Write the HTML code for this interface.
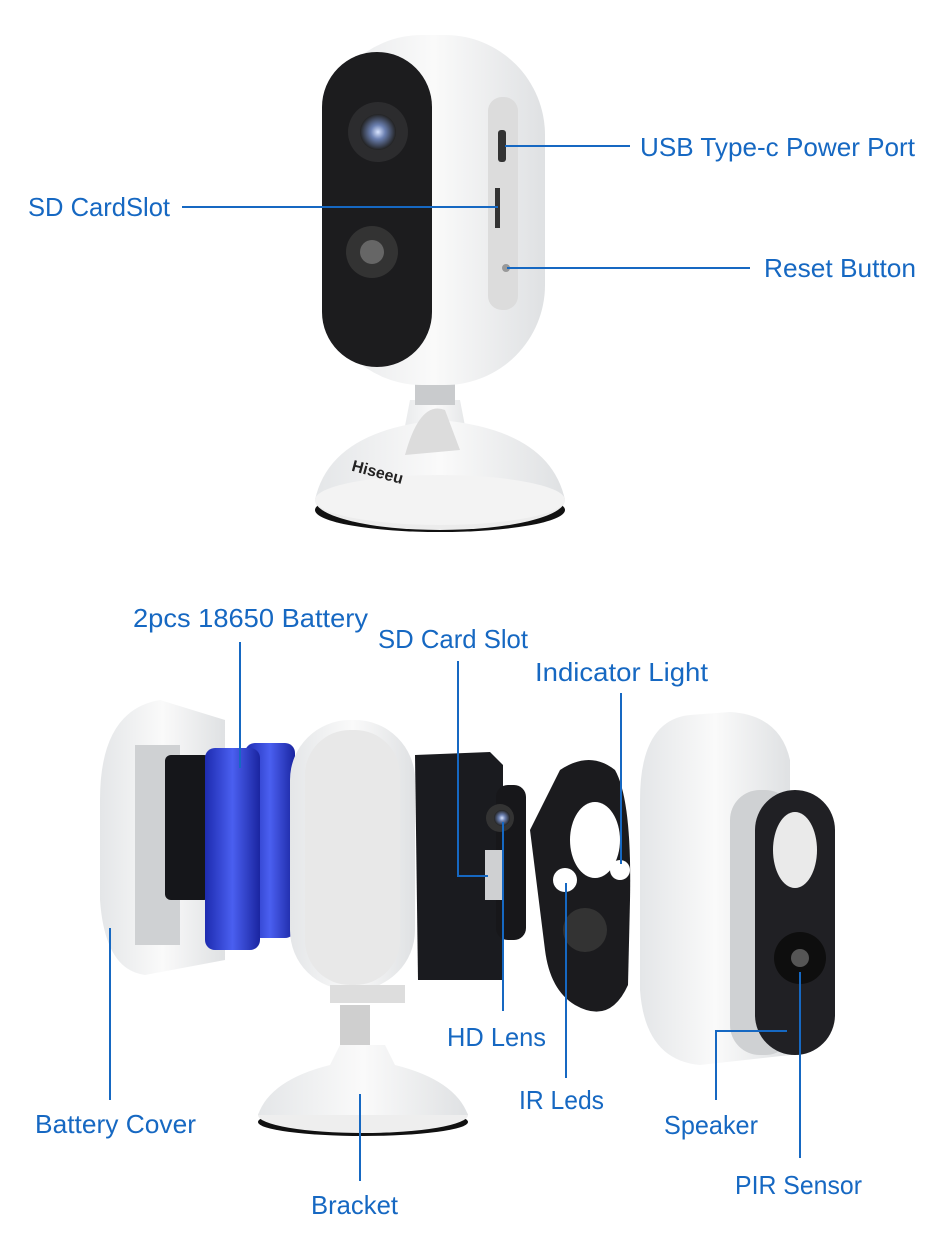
<!DOCTYPE html>
<html><head><meta charset="utf-8"><style>
html,body{margin:0;padding:0;background:#fff;}
svg{display:block}
text{font-family:"Liberation Sans",sans-serif;font-size:26px;fill:#1668c2;}
</style></head><body>
<svg width="950" height="1258" viewBox="0 0 950 1258" xmlns="http://www.w3.org/2000/svg">
<defs>
<linearGradient id="wh" x1="0" x2="1"><stop offset="0" stop-color="#e4e6e8"/><stop offset="0.5" stop-color="#fafafa"/><stop offset="1" stop-color="#dfe1e3"/></linearGradient>
<linearGradient id="bl" x1="0" x2="1"><stop offset="0" stop-color="#1d2bb0"/><stop offset="0.5" stop-color="#4a5ff0"/><stop offset="1" stop-color="#1a25a0"/></linearGradient>
<radialGradient id="lens"><stop offset="0" stop-color="#d8e4ff"/><stop offset="0.4" stop-color="#6a7fb0"/><stop offset="1" stop-color="#222"/></radialGradient>
</defs>

<!-- TOP CAMERA -->
<path d="M395 478 L410 400 L460 400 L475 478 Z" fill="url(#wh)"/>
<rect x="415" y="375" width="40" height="30" fill="#c9cbcd"/>
<ellipse cx="440" cy="510" rx="125" ry="22" fill="#111"/>
<ellipse cx="440" cy="500" rx="125" ry="30" fill="#ececec"/>
<path d="M315 500 Q330 430 440 420 Q550 430 565 500 Z" fill="url(#wh)"/>
<ellipse cx="440" cy="500" rx="125" ry="25" fill="#f3f3f3"/>
<path d="M405 455 Q420 400 445 410 L460 450 Z" fill="#dcdcdc"/>
<text x="352" y="478" style="font-size:16px;font-weight:bold;fill:#222" transform="rotate(15 380 470)">Hiseeu</text>
<rect x="322" y="35" width="223" height="350" rx="100" fill="url(#wh)"/>
<rect x="322" y="52" width="110" height="315" rx="55" fill="#1c1c1e"/>
<circle cx="378" cy="132" r="30" fill="#2c2c2e"/>
<circle cx="378" cy="132" r="18" fill="url(#lens)"/>
<circle cx="372" cy="252" r="26" fill="#333"/>
<circle cx="372" cy="252" r="12" fill="#666"/>
<rect x="488" y="97" width="30" height="213" rx="14" fill="#dcdcdc"/>
<rect x="498" y="130" width="8" height="32" rx="3" fill="#333"/>
<rect x="495" y="188" width="5" height="40" fill="#333"/>
<circle cx="506" cy="268" r="4" fill="#999"/>

<line x1="505" y1="146" x2="630" y2="146" stroke="#1668c2" stroke-width="2"/>
<line x1="182" y1="207" x2="498" y2="207" stroke="#1668c2" stroke-width="2"/>
<line x1="507" y1="268" x2="750" y2="268" stroke="#1668c2" stroke-width="2"/>
<text x="640" y="156" textLength="275" lengthAdjust="spacingAndGlyphs">USB Type-c Power Port</text>
<text x="28" y="216" textLength="142" lengthAdjust="spacingAndGlyphs">SD CardSlot</text>
<text x="764" y="277" textLength="152" lengthAdjust="spacingAndGlyphs">Reset Button</text>

<!-- BOTTOM -->
<path d="M160 700 Q100 710 100 800 L100 900 Q105 970 145 975 L225 960 L225 720 Z" fill="url(#wh)"/>
<rect x="135" y="745" width="45" height="200" fill="#cfd1d3"/>
<rect x="165" y="755" width="45" height="145" rx="6" fill="#15161a"/>
<rect x="245" y="743" width="50" height="195" rx="10" fill="url(#bl)"/>
<rect x="205" y="748" width="55" height="202" rx="10" fill="url(#bl)"/>
<rect x="290" y="720" width="125" height="270" rx="60" fill="url(#wh)"/>
<rect x="305" y="730" width="95" height="255" rx="45" fill="#e8e8e8"/>
<rect x="330" y="985" width="75" height="18" fill="#ddd"/>
<rect x="340" y="1005" width="30" height="45" fill="#cfcfcf"/>
<ellipse cx="363" cy="1122" rx="105" ry="14" fill="#111"/>
<ellipse cx="363" cy="1115" rx="105" ry="18" fill="#eee"/>
<path d="M258 1115 Q270 1080 330 1065 L340 1045 L385 1045 L395 1065 Q455 1080 468 1115 Z" fill="url(#wh)"/>
<path d="M415 755 L490 752 L503 765 L503 980 L418 980 Z" fill="#1a1b1f"/>
<rect x="496" y="785" width="30" height="155" rx="12" fill="#17171a"/>
<circle cx="500" cy="818" r="14" fill="#333"/>
<circle cx="502" cy="818" r="8" fill="url(#lens)"/>
<rect x="485" y="850" width="18" height="50" fill="#cfd0d2"/>
<path d="M560 770 Q590 750 615 770 Q632 800 630 900 L628 985 Q610 1025 575 1005 Q550 990 545 950 L530 830 Z" fill="#1b1b1e"/>
<ellipse cx="595" cy="840" rx="25" ry="38" fill="#fff"/>
<circle cx="585" cy="930" r="22" fill="#333"/>
<circle cx="565" cy="880" r="12" fill="#fff"/>
<circle cx="620" cy="870" r="10" fill="#fff"/>
<path d="M690 715 Q640 720 640 800 L640 990 Q645 1060 700 1065 L790 1055 L790 760 Q780 715 730 712 Z" fill="url(#wh)"/>
<rect x="730" y="790" width="65" height="265" rx="30" fill="#cfd1d3"/>
<rect x="755" y="790" width="80" height="265" rx="40" fill="#202024"/>
<ellipse cx="795" cy="850" rx="22" ry="38" fill="#eaeaea"/>
<circle cx="800" cy="958" r="26" fill="#0e0e0e"/>
<circle cx="800" cy="958" r="9" fill="#555"/>

<g stroke="#1668c2" stroke-width="2" fill="none">
<line x1="240" y1="642" x2="240" y2="768"/>
<polyline points="458,661 458,876 488,876"/>
<line x1="621" y1="693" x2="621" y2="864"/>
<line x1="503" y1="822" x2="503" y2="1011"/>
<line x1="566" y1="883" x2="566" y2="1078"/>
<line x1="110" y1="928" x2="110" y2="1100"/>
<polyline points="716,1100 716,1031 787,1031"/>
<line x1="800" y1="972" x2="800" y2="1158"/>
<line x1="360" y1="1094" x2="360" y2="1181"/>
</g>

<text x="133" y="627" textLength="235" lengthAdjust="spacingAndGlyphs">2pcs  18650 Battery</text>
<text x="378" y="648" textLength="150" lengthAdjust="spacingAndGlyphs">SD Card Slot</text>
<text x="535" y="681" textLength="173" lengthAdjust="spacingAndGlyphs">Indicator Light</text>
<text x="447" y="1046" textLength="99" lengthAdjust="spacingAndGlyphs">HD Lens</text>
<text x="519" y="1109" textLength="85" lengthAdjust="spacingAndGlyphs">IR Leds</text>
<text x="35" y="1133" textLength="161" lengthAdjust="spacingAndGlyphs">Battery Cover</text>
<text x="664" y="1134" textLength="94" lengthAdjust="spacingAndGlyphs">Speaker</text>
<text x="735" y="1194" textLength="127" lengthAdjust="spacingAndGlyphs">PIR Sensor</text>
<text x="311" y="1214" textLength="87" lengthAdjust="spacingAndGlyphs">Bracket</text>
</svg>
</body></html>
